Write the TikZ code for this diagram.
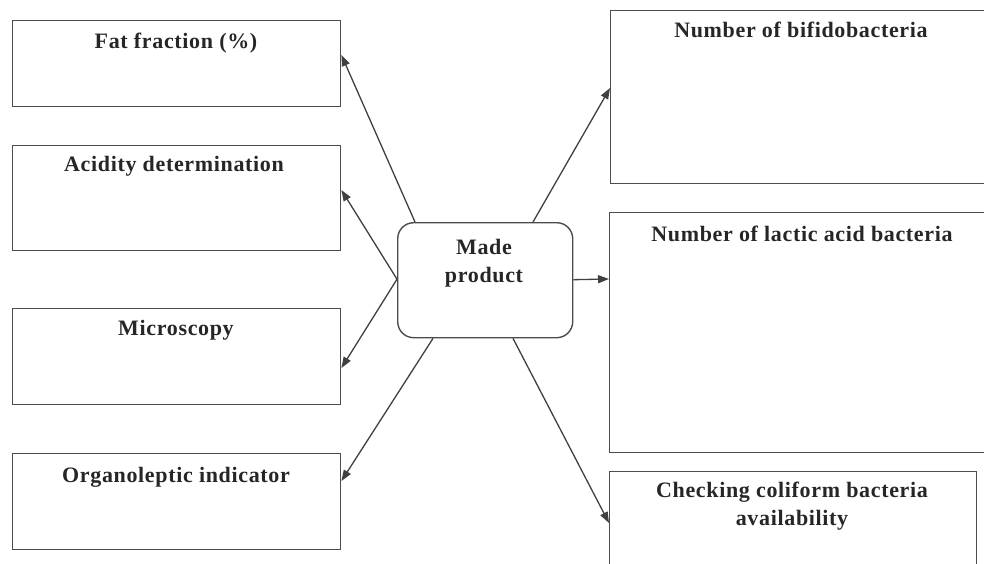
\documentclass[tikz,border=0pt]{standalone}
\usepackage{fontspec}
\setmainfont{Liberation Serif}
\usetikzlibrary{arrows.meta,calc}
\begin{document}
\begin{tikzpicture}[x=1pt,y=-1pt,
  box/.style={draw=black!70,line width=1.4pt,anchor=north west,inner sep=0pt},
  cbox/.style={draw=black!70,line width=1.4pt,rounded corners=16pt,anchor=north west,inner sep=0pt},
  lbl/.style={font=\bfseries\fontsize{22}{28.5}\selectfont\addfontfeature{LetterSpace=3},align=center,text=black!85},
  arr/.style={draw=black!75,line width=1.3pt,-{Triangle[length=11pt,width=8pt]}}]
\useasboundingbox (0,0) rectangle (984,564);
\clip (0,0) rectangle (984,564);
% left boxes
\node[box,minimum width=328pt,minimum height=86pt] (b1) at (12,20) {};
\node[box,minimum width=328pt,minimum height=105pt] (b2) at (12,145) {};
\node[box,minimum width=328pt,minimum height=96pt] (b3) at (12,308) {};
\node[box,minimum width=328pt,minimum height=96pt] (b4) at (12,453) {};
% center
\node[cbox,minimum width=175pt,minimum height=115pt] (c) at (397,222) {};
% right boxes
\node[box,minimum width=390pt,minimum height=173pt] (r1) at (610,10) {};
\node[box,minimum width=390pt,minimum height=240pt] (r2) at (609,212) {};
\node[box,minimum width=367pt,minimum height=110pt] (r3) at (609,471) {};
% texts
\node[lbl] (t1) at (176,43) {Fat fraction (\%)};
\node[lbl] (t2) at (174,166) {Acidity determination};
\node[lbl] (t3) at (176,330) {Microscopy};
\node[lbl] (t4) at (176,477) {Organoleptic indicator};
\node[lbl] (tc) at (484,263) {Made\\product};
\node[lbl] (tr1) at (801,30) {Number of bifidobacteria};
\node[lbl] (tr2) at (802,234) {Number of lactic acid bacteria};
\node[lbl] (tr3) at (792,506) {Checking coliform bacteria\\availability};
% connector endpoints
\coordinate (s1) at ($(c.north west)+(18,0)$);
\coordinate (s2) at ($(c.north west)+(136,0)$);
\coordinate (s3) at ($(c.south west)+(36,0)$);
\coordinate (s4) at ($(c.south west)+(116,0)$);
\coordinate (sl) at ($(c.west)+(0,-1)$);
\coordinate (sr) at ($(c.east)+(0,-0.5)$);
\coordinate (e1) at ($(b1.north east)+(0,35)$);
\coordinate (e2) at ($(b2.north east)+(0,45)$);
\coordinate (e3) at ($(b3.north east)+(0,60)$);
\coordinate (e4) at ($(b4.north east)+(0,28)$);
\coordinate (f1) at ($(r1.north west)+(0,78)$);
\coordinate (f2) at ($(r2.north west)+(0,67)$);
\coordinate (f3) at ($(r3.north west)+(0,52)$);
\draw[arr] (s1) -- (e1);
\draw[arr] (sl) -- (e2);
\draw[arr] (sl) -- (e3);
\draw[arr] (s3) -- (e4);
\draw[arr] (s2) -- (f1);
\draw[arr] (sr) -- (f2);
\draw[arr] (s4) -- (f3);
\end{tikzpicture}
\end{document}
